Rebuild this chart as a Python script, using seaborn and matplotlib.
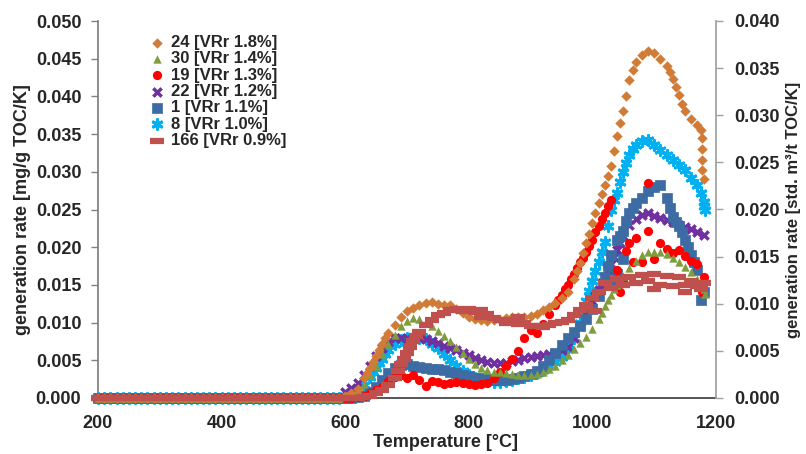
import matplotlib
matplotlib.use("Agg")
import matplotlib.pyplot as plt
import numpy as np
import pandas as pd
import seaborn as sns

# ---------------- data ----------------
base_temp = list(range(200, 600, 10))
base_rate = [0.0] * len(base_temp)

temp = list(range(600, 1190, 10))

r24 = [0.0003, 0.0006, 0.0012, 0.0026, 0.0040, 0.0056, 0.0072, 0.0086, 0.0097, 0.0107,
       0.0115, 0.0120, 0.0124, 0.0126, 0.0127, 0.0125, 0.0124, 0.0123, 0.0118, 0.0113,
       0.0108, 0.0105, 0.0103, 0.0102, 0.0103, 0.0104, 0.0106, 0.0107, 0.0107, 0.0108,
       0.0109, 0.0112, 0.0117, 0.0121, 0.0126, 0.0132, 0.0140, 0.0158, 0.0179, 0.0205,
       0.0232, 0.0258, 0.0282, 0.0308, 0.0348, 0.0380, 0.0422, 0.0445, 0.0455, 0.0460,
       0.0457, 0.0450, 0.0440, 0.0423, 0.0402, 0.0380, 0.0370, 0.0362, 0.0290]
r30 = [0.0002, 0.0005, 0.0010, 0.0018, 0.0030, 0.0043, 0.0058, 0.0072, 0.0084, 0.0095,
       0.0102, 0.0106, 0.0105, 0.0101, 0.0095, 0.0089, 0.0082, 0.0075, 0.0068, 0.0060,
       0.0052, 0.0045, 0.0040, 0.0037, 0.0035, 0.0034, 0.0033, 0.0032, 0.0031, 0.0031,
       0.0031, 0.0032, 0.0034, 0.0038, 0.0043, 0.0050, 0.0057, 0.0065, 0.0073, 0.0081,
       0.0092, 0.0105, 0.0122, 0.0137, 0.0150, 0.0162, 0.0173, 0.0182, 0.0189, 0.0193,
       0.0194, 0.0193, 0.0191, 0.0186, 0.0180, 0.0174, 0.0167, 0.0158, 0.0145]
r19 = [0.0000, 0.0000, 0.0001, 0.0003, 0.0006, 0.0010, 0.0015, 0.0022, 0.0028, 0.0030,
       0.0026, 0.0031, 0.0024, 0.0016, 0.0022, 0.0021, 0.0019, 0.0020, 0.0021, 0.0020,
       0.0018, 0.0017, 0.0018, 0.0020, 0.0027, 0.0035, 0.0043, 0.0052, 0.0062, 0.0080,
       0.0090, 0.0086, 0.0098, 0.0112, 0.0124, 0.0137, 0.0150, 0.0165, 0.0180, 0.0193,
       0.0210, 0.0228, 0.0245, 0.0262, 0.0170, 0.0155, 0.0205, 0.0212, 0.0180, 0.0222,
       0.0185, 0.0205, 0.0198, 0.0192, 0.0196, 0.0188, 0.0182, 0.0178, 0.0160]
r22 = [0.0008, 0.0013, 0.0020, 0.0030, 0.0042, 0.0056, 0.0066, 0.0074, 0.0079, 0.0080,
       0.0079, 0.0079, 0.0079, 0.0078, 0.0076, 0.0073, 0.0069, 0.0066, 0.0063, 0.0060,
       0.0057, 0.0053, 0.0050, 0.0048, 0.0047, 0.0046, 0.0047, 0.0049, 0.0051, 0.0053,
       0.0055, 0.0056, 0.0057, 0.0058, 0.0060, 0.0063, 0.0068, 0.0080, 0.0095, 0.0112,
       0.0128, 0.0143, 0.0160, 0.0178, 0.0196, 0.0215, 0.0229, 0.0238, 0.0243, 0.0245,
       0.0242, 0.0239, 0.0236, 0.0233, 0.0230, 0.0227, 0.0224, 0.0220, 0.0216]
r1 = [0.0000, 0.0000, 0.0001, 0.0003, 0.0008, 0.0015, 0.0024, 0.0033, 0.0040, 0.0044,
      0.0045, 0.0043, 0.0041, 0.0040, 0.0039, 0.0038, 0.0037, 0.0035, 0.0033, 0.0031,
      0.0029, 0.0027, 0.0026, 0.0025, 0.0024, 0.0024, 0.0024, 0.0025, 0.0027, 0.0029,
      0.0032, 0.0036, 0.0042, 0.0050, 0.0060, 0.0070, 0.0080, 0.0088, 0.0095, 0.0105,
      0.0118, 0.0135, 0.0160, 0.0190, 0.0210, 0.0222, 0.0245, 0.0258, 0.0265, 0.0275,
      0.0280, 0.0282, 0.0265, 0.0240, 0.0228, 0.0210, 0.0190, 0.0170, 0.0140]
r8 = [0.0003, 0.0006, 0.0010, 0.0017, 0.0028, 0.0040, 0.0052, 0.0063, 0.0071, 0.0077,
      0.0080, 0.0081, 0.0080, 0.0078, 0.0072, 0.0066, 0.0058, 0.0050, 0.0043, 0.0036,
      0.0031, 0.0027, 0.0024, 0.0022, 0.0021, 0.0021, 0.0022, 0.0024, 0.0026, 0.0028,
      0.0030, 0.0033, 0.0037, 0.0042, 0.0048, 0.0055, 0.0065, 0.0080, 0.0100, 0.0128,
      0.0155, 0.0180, 0.0207, 0.0250, 0.0272, 0.0300, 0.0322, 0.0336, 0.0341, 0.0342,
      0.0336, 0.0329, 0.0322, 0.0315, 0.0309, 0.0303, 0.0292, 0.0282, 0.0260]
r166 = [0.0000, 0.0000, 0.0000, 0.0001, 0.0003, 0.0006, 0.0010, 0.0017, 0.0027, 0.0045,
        0.0060, 0.0075, 0.0088, 0.0097, 0.0104, 0.0110, 0.0113, 0.0117, 0.0118, 0.0116,
        0.0118, 0.0114, 0.0117, 0.0111, 0.0106, 0.0104, 0.0100, 0.0103, 0.0098, 0.0100,
        0.0095, 0.0096, 0.0094, 0.0097, 0.0099, 0.0101, 0.0104, 0.0110, 0.0117, 0.0124,
        0.0132, 0.0140, 0.0152, 0.0146, 0.0158, 0.0150, 0.0160, 0.0152, 0.0163, 0.0155,
        0.0165, 0.0150, 0.0162, 0.0148, 0.0160, 0.0150, 0.0155, 0.0148, 0.0152]

# additional points read in the steep / scattered parts
x24 = [635, 645, 655, 665, 975, 985, 995, 1005, 1015, 1025, 1035, 1045, 1055, 1065,
       1125, 1135, 1145, 1175, 1177, 1177, 1177, 1177]
y24 = [0.0033, 0.0048, 0.0064, 0.0079, 0.0168, 0.0192, 0.0218, 0.0245, 0.0270, 0.0295,
       0.0328, 0.0365, 0.0400, 0.0435, 0.0432, 0.0412, 0.0390, 0.0355, 0.0345, 0.0330,
       0.0315, 0.0302]
x30 = [1015, 1025, 1035, 1182]
y30 = [0.0113, 0.0130, 0.0144, 0.0138]
x19 = [945, 955, 965, 975, 985, 995, 1005, 1015, 1025,
       1090, 1045, 1055, 1065, 1175, 1178]
y19 = [0.0130, 0.0144, 0.0158, 0.0172, 0.0186, 0.0202, 0.0220, 0.0237, 0.0254,
       0.0285, 0.0140, 0.0195, 0.0180, 0.0150, 0.0140]
x22 = [1005, 1015, 1025, 1035, 1045]
y22 = [0.0135, 0.0152, 0.0170, 0.0187, 0.0206]
x1 = [1025, 1045, 1055, 1065, 1125, 1135, 1145, 1155, 1165,
      1176, 1040, 1050, 1035]
y1 = [0.0175, 0.0215, 0.0235, 0.0252, 0.0252, 0.0234, 0.0220, 0.0200, 0.0180,
      0.0130, 0.0165, 0.0185, 0.0150]
x8 = [645, 655, 665, 985, 995, 1005, 1015, 1025, 1035, 1045, 1055, 1065,
      1175, 1181, 1182]
y8 = [0.0034, 0.0046, 0.0058, 0.0113, 0.0142, 0.0168, 0.0193, 0.0228, 0.0262, 0.0287,
      0.0312, 0.0330, 0.0272, 0.0255, 0.0250]
x166 = [685, 695, 705, 715, 1005, 1100, 1150, 1175, 880, 820]
y166 = [0.0036, 0.0052, 0.0068, 0.0082, 0.0115, 0.0145, 0.0140, 0.0145, 0.0108, 0.0108]

labels = ["24 [VRr 1.8%]", "30 [VRr 1.4%]", "19 [VRr 1.3%]", "22 [VRr 1.2%]",
          "1 [VRr 1.1%]", "8 [VRr 1.0%]", "166 [VRr 0.9%]"]

# ---------------- style ----------------
sns.set_theme(style="white")
plt.rcParams["font.family"] = ["Liberation Sans", "DejaVu Sans"]
plt.rcParams["font.weight"] = "bold"
plt.rcParams["axes.labelweight"] = "bold"

fig = plt.figure(figsize=(8.06, 4.54), dpi=100)
ax = fig.add_axes([98 / 806, 1 - 398 / 454, 618 / 806, 377 / 454])

def series_df(vals, ex_t, ex_v):
    t = base_temp + temp + ex_t
    v = base_rate + vals + ex_v
    return pd.DataFrame({"T": t, "rate": v}).sort_values("T")

specs = {
    "8": (r8, x8, y8, "#00B0F0", (6, 2, 0), 48, 2.2, labels[5]),
    "22": (r22, x22, y22, "#7030A0", "x", 36, 2.5, labels[3]),
    "1": (r1, x1, y1, "#3D6BA3", "s", 46, 0.5, labels[4]),
    "19": (r19, x19, y19, "#FF0000", "o", 44, 0.0, labels[2]),
    "30": (r30, x30, y30, "#7F9D3E", "^", 36, 0.0, labels[1]),
    "24": (r24, x24, y24, "#D07C36", "D", 28, 0.0, labels[0]),
    "166": (r166, x166, y166, "#C0504D", "_", 100, 4.5, labels[6]),
}

handles = {}
for key, (vals, et, ev, col, mk, s, lw, lab) in specs.items():
    df = series_df(vals, et, ev)
    if mk in ("x", "_") or isinstance(mk, tuple):
        sns.scatterplot(data=df, x="T", y="rate", ax=ax, marker=mk, s=s,
                        color=col, linewidth=lw, clip_on=False, zorder=3)
    else:
        sns.scatterplot(data=df, x="T", y="rate", ax=ax, marker=mk, s=s,
                        color=col, edgecolor=col, linewidth=lw, clip_on=False, zorder=3)
    handles[lab] = ax.collections[-1]

ax.set_xlim(200, 1200)
ax.set_ylim(0, 0.05)
ax.set_xticks([200, 400, 600, 800, 1000, 1200])
ax.set_yticks(np.arange(0, 0.0501, 0.005))
ax.yaxis.set_major_formatter(matplotlib.ticker.FormatStrFormatter("%.3f"))
ax.tick_params(axis="both", direction="out", length=5, width=1, color="#808080",
               labelsize=13)
ax.tick_params(axis="x", pad=7)
ax.tick_params(axis="y", pad=7)
for lab in ax.get_xticklabels() + ax.get_yticklabels():
    lab.set_fontweight("bold")
ax.set_xlabel("Temperature [°C]", fontsize=13, fontweight="bold")
ax.set_ylabel("generation rate [mg/g TOC/K]", fontsize=13, fontweight="bold")
ax.xaxis.set_label_coords((445 - 98) / 618, (398 - 434) / 377)
ax.yaxis.set_label_coords((31 - 98) / 618, 0.5)

ax.spines["top"].set_visible(False)
ax.spines["right"].set_visible(False)
ax.spines["left"].set_color("#808080")
ax.spines["bottom"].set_color("#404040")

ax2 = ax.twinx()
ax2.set_ylim(0, 0.04)
ax2.set_yticks(np.arange(0, 0.0401, 0.005))
ax2.yaxis.set_major_formatter(matplotlib.ticker.FormatStrFormatter("%.3f"))
ax2.tick_params(axis="y", direction="out", length=5, width=1, color="#A0A0A0",
                labelsize=13, pad=8)
for lab in ax2.get_yticklabels():
    lab.set_fontweight("bold")
ax2.set_ylabel("generation rate [std. m³/t TOC/K]", fontsize=12, fontweight="bold")
ax2.yaxis.set_label_coords((786 - 98) / 618, 0.5)
for side in ["top", "left", "bottom"]:
    ax2.spines[side].set_visible(False)
ax2.spines["right"].set_color("#A0A0A0")
ax2.grid(False)
ax.grid(False)

leg = ax.legend([handles[l] for l in labels], labels, loc="upper left",
                bbox_to_anchor=((149 - 98) / 618, (398 - 35) / 377),
                frameon=False, fontsize=12, handlelength=1.0, handletextpad=0.3,
                labelspacing=0.08, borderpad=0, borderaxespad=0, markerscale=1.0)
for t in leg.get_texts():
    t.set_fontweight("bold")

fig.savefig("out.png", dpi=100)
